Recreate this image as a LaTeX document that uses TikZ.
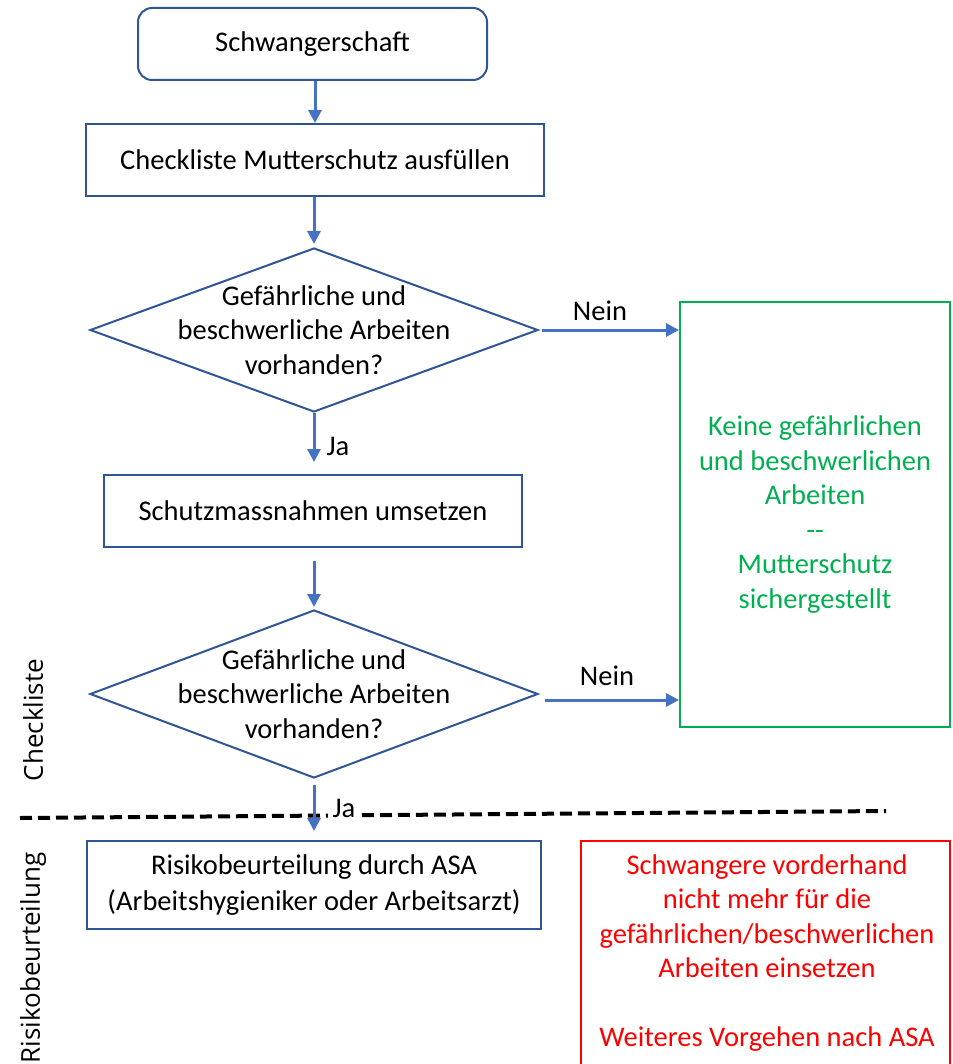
\documentclass[tikz,border=0pt]{standalone}
\usepackage{fontspec}
\setmainfont{Carlito}
\newfontfamily\sidefont{Open Sans}
\usetikzlibrary{arrows.meta,shapes.geometric}
\definecolor{boxblue}{RGB}{47,85,151}
\definecolor{arrblue}{RGB}{68,114,196}
\definecolor{okgreen}{RGB}{0,176,80}
\definecolor{warnred}{RGB}{255,0,0}
\tikzset{
  every node/.style={font=\fontsize{28.5}{34.5}\selectfont},
  procbox/.style={draw=boxblue, line width=2pt, rectangle, align=center, inner sep=0pt},
  startbox/.style={procbox, rounded corners=14pt},
  decbox/.style={draw=boxblue, line width=2pt, diamond, inner sep=0pt, aspect=2.73},
  flow/.style={draw=arrblue, line width=3pt, -{Triangle[length=13pt,width=13pt]}},
  lbl/.style={inner sep=1pt},
  sidelbl/.style={font=\sidefont\fontsize{26}{30}\selectfont, rotate=90},
}
\begin{document}
\begin{tikzpicture}[x=1pt,y=-1pt]
\useasboundingbox (0,0) rectangle (952,1064);
\begin{scope}
\clip (0,0) rectangle (952,1064);
% nodes
\node[startbox, minimum width=349, minimum height=72] (start) at (312.5,44) {Schwangerschaft};
\node[procbox, minimum width=458, minimum height=72] (check) at (315,160) {Checkliste Mutterschutz ausfüllen};
\node[decbox, minimum width=448, minimum height=164, label={[align=center]center:Gefährliche und\\beschwerliche Arbeiten\\vorhanden?}] (d1) at (314,330) {};
\node[procbox, minimum width=418, minimum height=72] (schutz) at (313,511) {Schutzmassnahmen umsetzen};
\node[decbox, minimum width=448, minimum height=168, label={[align=center]center:Gefährliche und\\beschwerliche Arbeiten\\vorhanden?}] (d2) at (314,694) {};
\node[procbox, minimum width=454, minimum height=88, font=\fontsize{28.5}{36}\selectfont] (asa) at (314,885) {Risikobeurteilung durch ASA\\(Arbeitshygieniker oder Arbeitsarzt)};
\node[draw=okgreen, line width=2pt, rectangle, minimum width=270, minimum height=425, align=center, text=okgreen, inner sep=0pt] (green) at (815,514.5)
  {Keine gefährlichen\\und beschwerlichen\\Arbeiten\\\mbox{-}\mbox{-}\\Mutterschutz\\sichergestellt};
\node[draw=warnred, line width=2pt, rectangle, minimum width=369, minimum height=260, inner sep=0pt, anchor=north] (red) at (765.5,840) {};
\node[text=warnred, align=center] (redtxt) at (767,953) {Schwangere vorderhand\\nicht mehr für die\\gefährlichen/beschwerlichen\\Arbeiten einsetzen\\[34pt]Weiteres Vorgehen nach ASA};
% dashed separator
\coordinate (sepL) at (20,818);
\coordinate (sepR) at (886,811);
\draw[black, line width=4pt, dash pattern=on 12pt off 6pt] (sepL) -- (sepR);
% side labels
\node[sidelbl] (lcheck) at (33,720) {Checkliste};
\node[sidelbl] (lrisk) at (33,958) {Risikobeurteilung};
% connectors
\draw[flow] (start.south -| check.north) -- (check.north);
\draw[flow, shorten >=3pt] (check.south -| d1.north) -- (d1.north);
\draw[flow, shorten <=3pt] (d1.east) -- (green.west |- d1.east);
\node[lbl] (n1) at (600,311) {Nein};
\draw[flow, shorten >=12pt] (d1.south) -- (d1.south |- schutz.north);
\node[lbl] (ja1) at (338,446) {Ja};
\draw[flow, shorten <=13pt, shorten >=2pt] (schutz.south -| d2.north) -- (d2.north);
\coordinate (d2out) at ([xshift=6pt,yshift=-6pt]d2.east);
\draw[flow] (d2out) -- (green.west |- d2out);
\node[lbl] (n2) at (607,676) {Nein};
\draw[flow, shorten <=6pt, shorten >=9pt] (d2.south) -- (d2.south |- asa.north);
\node[lbl, fill=white, inner xsep=5pt] (ja2) at (344,808) {Ja};
\end{scope}
\end{tikzpicture}
\end{document}
